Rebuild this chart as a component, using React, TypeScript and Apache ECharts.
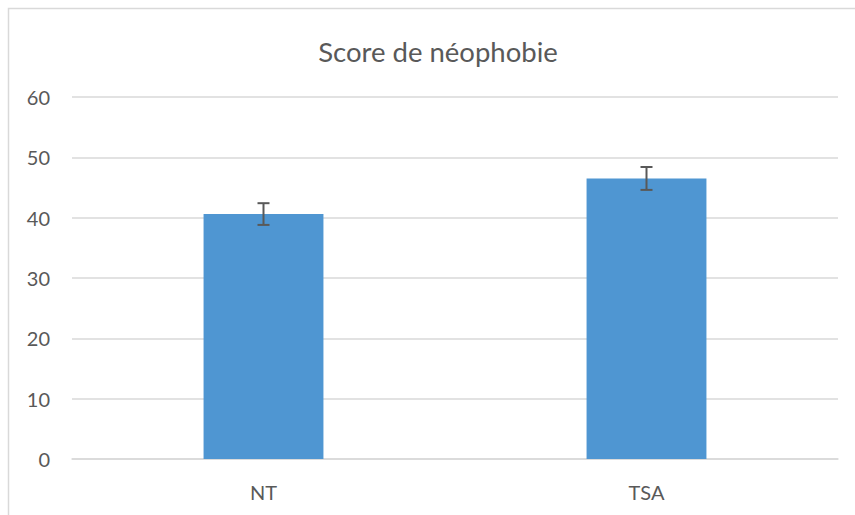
import React, { useEffect, useRef } from "react";
import * as echarts from "echarts";

const categories = ["NT", "TSA"];
const means = [40.6, 46.5];
const errors = [1.8, 1.9];
const titleText = "Score de néophobie";

export default function App() {
  const ref = useRef<HTMLDivElement>(null);
  useEffect(() => {
    if (!ref.current) return;
    const chart = echarts.init(ref.current, undefined, { renderer: "svg" });
    const errData = categories.map((c, i) => [i, means[i] - errors[i], means[i] + errors[i]]);
    chart.setOption({
      animation: false,
      textStyle: { fontFamily: "Lato" },
      title: {
        text: titleText,
        left: 433,
        textAlign: "center",
        top: 32,
        textStyle: { fontFamily: "Lato", fontSize: 27.5, fontWeight: "normal", color: "#595959" },
      },
      graphic: [
        {
          type: "rect",
          shape: { x: 8.5, y: 8.5, width: 1000, height: 1000 },
          style: { fill: "none", stroke: "#d9d9d9", lineWidth: 1.5 },
          silent: true,
          z: -10,
        },
      ],
      grid: { left: 72, right: 17, top: 97, bottom: 56, containLabel: false },
      xAxis: {
        type: "category",
        data: categories,
        axisLine: { show: true, lineStyle: { color: "#d9d9d9", width: 1.5 } },
        axisTick: { show: false },
        axisLabel: { color: "#595959", fontSize: 20, fontFamily: "Lato", margin: 23 },
      },
      yAxis: {
        type: "value",
        min: 0,
        max: 60,
        interval: 10,
        axisLine: { show: false },
        axisTick: { show: false },
        splitLine: { lineStyle: { color: "#d9d9d9", width: 1.5 } },
        axisLabel: { color: "#595959", fontSize: 20, fontFamily: "Lato", margin: 22 },
      },
      series: [
        {
          type: "bar",
          data: means,
          barWidth: "31.3%",
          itemStyle: { color: "#4f96d2" },
          z: 2,
        },
        {
          type: "custom",
          data: errData,
          z: 5,
          renderItem: (params: any, api: any) => {
            const x = api.value(0);
            const lo = api.coord([x, api.value(1)]);
            const hi = api.coord([x, api.value(2)]);
            const cap = 6;
            const style = { stroke: "#595959", lineWidth: 2 };
            return {
              type: "group",
              children: [
                { type: "line", shape: { x1: lo[0], y1: lo[1], x2: hi[0], y2: hi[1] }, style },
                { type: "line", shape: { x1: hi[0] - cap, y1: hi[1], x2: hi[0] + cap, y2: hi[1] }, style },
                { type: "line", shape: { x1: lo[0] - cap, y1: lo[1], x2: lo[0] + cap, y2: lo[1] }, style },
              ],
            };
          },
        },
      ],
    });
    return () => chart.dispose();
  }, []);
  return (
    <div
      ref={ref}
      style={{ position: "fixed", left: 0, top: 0, width: 855, height: 515, background: "#fff" }}
    />
  );
}
